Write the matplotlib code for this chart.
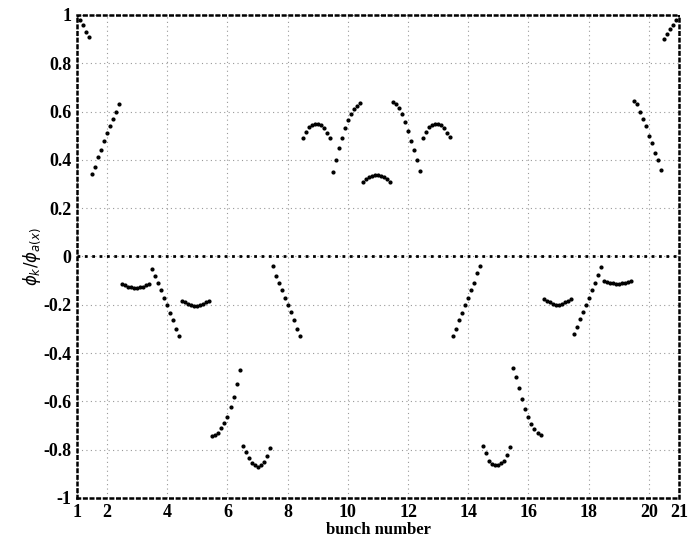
import matplotlib
matplotlib.use('Agg')
import matplotlib.pyplot as plt

'''
    data read off the picture (one segment per bunch)
'''
x_b1 = [1.0, 1.1, 1.2, 1.3, 1.4]
y_b1 = [1.0, 0.98, 0.96, 0.93, 0.91]
x_b2 = [1.5, 1.6, 1.7, 1.8, 1.9, 2.0, 2.1, 2.2, 2.3, 2.4]
y_b2 = [0.34, 0.37, 0.41, 0.44, 0.48, 0.51, 0.54, 0.57, 0.60, 0.63]
x_b3 = [2.5, 2.6, 2.7, 2.8, 2.9, 3.0, 3.1, 3.2, 3.3, 3.4]
y_b3 = [-0.115, -0.12, -0.125, -0.125, -0.13, -0.13, -0.125, -0.125, -0.12, -0.115]
x_b4 = [3.5, 3.6, 3.7, 3.8, 3.9, 4.0, 4.1, 4.2, 4.3, 4.4]
y_b4 = [-0.05, -0.08, -0.11, -0.14, -0.17, -0.20, -0.235, -0.265, -0.30, -0.33]
x_b5 = [4.5, 4.6, 4.7, 4.8, 4.9, 5.0, 5.1, 5.2, 5.3, 5.4]
y_b5 = [-0.185, -0.19, -0.195, -0.2, -0.205, -0.205, -0.2, -0.195, -0.19, -0.185]
x_b6 = [5.5, 5.6, 5.7, 5.8, 5.9, 6.0, 6.1, 6.2, 6.3, 6.4]
y_b6 = [-0.745, -0.74, -0.73, -0.71, -0.69, -0.665, -0.625, -0.58, -0.53, -0.47]
x_b7 = [6.5, 6.6, 6.7, 6.8, 6.9, 7.0, 7.1, 7.2, 7.3, 7.4]
y_b7 = [-0.785, -0.81, -0.835, -0.855, -0.865, -0.87, -0.865, -0.85, -0.825, -0.795]
x_b8 = [7.5, 7.6, 7.7, 7.8, 7.9, 8.0, 8.1, 8.2, 8.3, 8.4]
y_b8 = [-0.04, -0.08, -0.11, -0.14, -0.17, -0.20, -0.23, -0.265, -0.30, -0.33]
x_b9 = [8.5, 8.6, 8.7, 8.8, 8.9, 9.0, 9.1, 9.2, 9.3, 9.4]
y_b9 = [0.49, 0.515, 0.535, 0.545, 0.55, 0.55, 0.545, 0.53, 0.51, 0.49]
x_b10 = [9.5, 9.6, 9.7, 9.8, 9.9, 10.0, 10.1, 10.2, 10.3, 10.4]
y_b10 = [0.35, 0.40, 0.45, 0.49, 0.53, 0.565, 0.59, 0.61, 0.625, 0.635]
x_b11 = [10.5, 10.6, 10.7, 10.8, 10.9, 11.0, 11.1, 11.2, 11.3, 11.4]
y_b11 = [0.31, 0.32, 0.33, 0.335, 0.338, 0.338, 0.335, 0.33, 0.32, 0.31]
x_b12 = [11.5, 11.6, 11.7, 11.8, 11.9, 12.0, 12.1, 12.2, 12.3, 12.4]
y_b12 = [0.64, 0.63, 0.615, 0.59, 0.555, 0.52, 0.48, 0.44, 0.40, 0.355]
x_b13 = [12.5, 12.6, 12.7, 12.8, 12.9, 13.0, 13.1, 13.2, 13.3, 13.4]
y_b13 = [0.49, 0.515, 0.535, 0.545, 0.55, 0.55, 0.545, 0.53, 0.51, 0.495]
x_b14 = [13.5, 13.6, 13.7, 13.8, 13.9, 14.0, 14.1, 14.2, 14.3, 14.4]
y_b14 = [-0.33, -0.30, -0.265, -0.235, -0.20, -0.17, -0.14, -0.11, -0.07, -0.04]
x_b15 = [14.5, 14.6, 14.7, 14.8, 14.9, 15.0, 15.1, 15.2, 15.3, 15.4]
y_b15 = [-0.785, -0.815, -0.845, -0.86, -0.865, -0.865, -0.855, -0.845, -0.82, -0.79]
x_b16 = [15.5, 15.6, 15.7, 15.8, 15.9, 16.0, 16.1, 16.2, 16.3, 16.4]
y_b16 = [-0.46, -0.50, -0.545, -0.59, -0.63, -0.665, -0.695, -0.715, -0.73, -0.74]
x_b17 = [16.5, 16.6, 16.7, 16.8, 16.9, 17.0, 17.1, 17.2, 17.3, 17.4]
y_b17 = [-0.175, -0.185, -0.19, -0.195, -0.2, -0.2, -0.195, -0.19, -0.185, -0.175]
x_b18 = [17.5, 17.6, 17.7, 17.8, 17.9, 18.0, 18.1, 18.2, 18.3, 18.4]
y_b18 = [-0.32, -0.29, -0.26, -0.23, -0.20, -0.17, -0.14, -0.11, -0.075, -0.045]
x_b19 = [18.5, 18.6, 18.7, 18.8, 18.9, 19.0, 19.1, 19.2, 19.3, 19.4]
y_b19 = [-0.10, -0.105, -0.11, -0.11, -0.115, -0.115, -0.11, -0.11, -0.105, -0.10]
x_b20 = [19.5, 19.6, 19.7, 19.8, 19.9, 20.0, 20.1, 20.2, 20.3, 20.4]
y_b20 = [0.645, 0.63, 0.60, 0.57, 0.54, 0.50, 0.47, 0.43, 0.40, 0.36]
x_b21 = [20.5, 20.6, 20.7, 20.8, 20.9, 21.0]
y_b21 = [0.90, 0.92, 0.94, 0.96, 0.98, 1.0]

segments = [(x_b1, y_b1), (x_b2, y_b2), (x_b3, y_b3), (x_b4, y_b4), (x_b5, y_b5),
            (x_b6, y_b6), (x_b7, y_b7), (x_b8, y_b8), (x_b9, y_b9), (x_b10, y_b10),
            (x_b11, y_b11), (x_b12, y_b12), (x_b13, y_b13), (x_b14, y_b14),
            (x_b15, y_b15), (x_b16, y_b16), (x_b17, y_b17), (x_b18, y_b18),
            (x_b19, y_b19), (x_b20, y_b20), (x_b21, y_b21)]

x_ticks = [1, 2, 4, 6, 8, 10, 12, 14, 16, 18, 20, 21]
x_ticklabels = ['1', '2', '4', '6', '8', '10', '12', '14', '16', '18', '20', '21']
y_ticks = [-1, -0.8, -0.6, -0.4, -0.2, 0, 0.2, 0.4, 0.6, 0.8, 1]
y_ticklabels = ['-1', '-0.8', '-0.6', '-0.4', '-0.2', '0', '0.2', '0.4', '0.6', '0.8', '1']

'''
    plot
'''
plt.rcParams['font.family'] = ['Liberation Serif', 'DejaVu Serif']
fig = plt.figure(figsize=(6.9, 5.49), dpi=100)
ax = fig.add_axes([0.1116, 0.0929, 0.8724, 0.8798])

for xs, ys in segments:
    ax.plot(xs, ys, linestyle='none', marker='o', markersize=2.0, color='black')

ax.axhline(0, color='black', linestyle=':', linewidth=2.0)

ax.set_xlim(1, 21)
ax.set_ylim(-1, 1)
ax.set_xticks(x_ticks)
ax.set_xticklabels(x_ticklabels, fontsize=13, fontweight='bold')
ax.set_yticks(y_ticks)
ax.set_yticklabels(y_ticklabels, fontsize=13, fontweight='bold')
ax.tick_params(length=0, pad=4)
ax.grid(which='major', color='0.6', linestyle=(0, (1, 3)), linewidth=0.8)
for s in ax.spines.values():
    s.set_linestyle(':')
    s.set_linewidth(1.8)

ax.set_xlabel('bunch number', fontsize=12, fontweight='bold', labelpad=1)
ax.set_ylabel(r'$\phi_k/\phi_{a(x)}$', fontsize=12, labelpad=0)

fig.savefig('out.png', dpi=100)
